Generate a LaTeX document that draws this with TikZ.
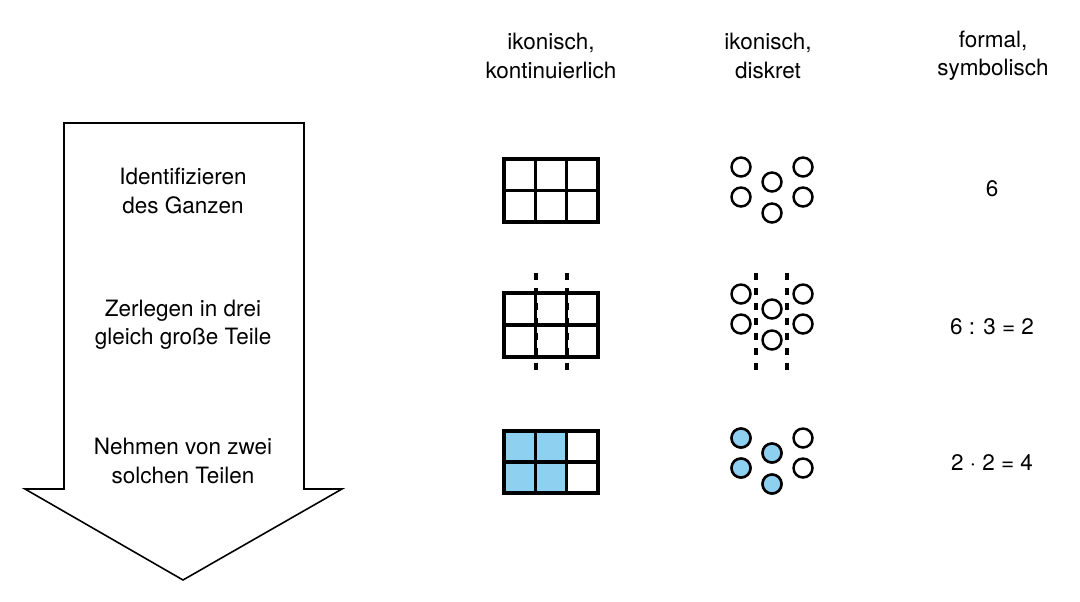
\documentclass[tikz,border=0pt]{standalone}
\usepackage{fontspec}
\setmainfont{TeX Gyre Heros}
\usetikzlibrary{arrows.meta,positioning}
\definecolor{teilblau}{RGB}{142,208,240}

\begin{document}
\begin{tikzpicture}[x=0.02cm,y=-0.02cm,
  lbl/.style={align=center,font=\fontsize{12.8}{16}\selectfont,inner sep=0pt},
  gitter/.style={line width=2.1pt},
  punkt/.style={circle,draw,line width=1.4pt,minimum size=3.8mm,inner sep=0pt},
  schnitt/.style={line width=1.9pt,dash pattern=on 4pt off 4.5pt},
  pfeil/.style={line width=0.9pt,line join=miter}]
  \useasboundingbox (0,0) rectangle (1080,602);

  % Prozesspfeil
  \coordinate (P1) at (64,123);
  \coordinate (P2) at (304,123);
  \coordinate (P3) at (304,489);
  \coordinate (P4) at (342,489);
  \coordinate (Pt) at (183,580);
  \coordinate (P5) at (25,489);
  \coordinate (P6) at (64,489);
  \draw[pfeil] (P1) -- (P2) -- (P3) -- (P4) -- (Pt) -- (P5) -- (P6) -- cycle;

  % Kopfzeile
  \node[lbl] (kopfK) at (551,56) {ikonisch,\\kontinuierlich};
  \node[lbl] (kopfD) at (768,56) {ikonisch,\\diskret};
  \node[lbl] (kopfS) at (993,56) {formal,\\symbolisch};

  % Schritte
  \node[lbl] (schritt1) at (183,191) {Identifizieren\\des Ganzen};
  \node[lbl] (schritt2) at (183,325) {Zerlegen in drei\\gleich große Teile};
  \node[lbl] (schritt3) at (183,461) {Nehmen von zwei\\solchen Teilen};

  % symbolisch
  \node[lbl] (sym1) at (992,189) {6};
  \node[lbl] (sym2) at (992,327) {6 : 3 = 2};
  \node[lbl] (sym3) at (992,463) {2 · 2 = 4};

  % kontinuierlich: Rechtecke
  \fill[teilblau] (504,431) rectangle (567,493);
  \foreach \t/\b in {159/222,293/357,431/493} {
    \draw[gitter] (504,\t) rectangle (598,\b);
    \draw[gitter] (504,{(\t+\b)/2}) -- (598,{(\t+\b)/2});
    \draw[gitter] (535.5,\t) -- (535.5,\b);
    \draw[gitter] (566.5,\t) -- (566.5,\b);
  }
  \draw[schnitt] (536,273) -- (536,373);
  \draw[schnitt] (567,273) -- (567,373);

  % diskret: Plaettchen
  \foreach \n/\dy in {1/0,2/127,3/271} {
    \node[punkt] (d\n a) at (741,167+\dy) {};
    \node[punkt] (d\n b) at (741,197+\dy) {};
    \node[punkt] (d\n c) at (772,182+\dy) {};
    \node[punkt] (d\n d) at (772,213+\dy) {};
    \node[punkt] (d\n e) at (803,167+\dy) {};
    \node[punkt] (d\n f) at (803,197+\dy) {};
  }
  \foreach \p in {d3a,d3b,d3c,d3d} \node[punkt,fill=teilblau] at (\p) {};
  \draw[schnitt] (756,273) -- (756,373);
  \draw[schnitt] (787,273) -- (787,373);
\end{tikzpicture}
\end{document}
